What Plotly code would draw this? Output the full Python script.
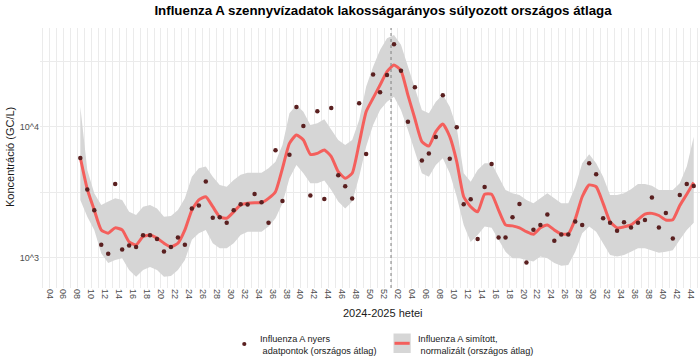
import datetime as dt
import plotly.graph_objects as go

# ISO weeks covered by the measurements
weeks_2024 = list(range(8, 53))
weeks_2025 = list(range(1, 45))

# raw national averages (GC/L)
raw_2024 = [5780, 3310, 2300, 1256, 1071, 3660, 1157, 1241, 1205, 1487, 1487, 1387, 1117,
            1205, 1429, 1256, 2371, 2500, 3820, 2023, 2040, 1850, 2300, 2560, 2550, 3070,
            2650, 1850, 6620, 2710, 6100, 14160, 10100, 2980, 13130, 2805, 13900, 4265,
            3515, 2825, 15100, 6180, 25000, 18350, 24800]
raw_2025 = [42500, 26700, 10920, 20000, 5530, 6250, 8340, 17400, 5690, 9890, 2560, 2790,
            1387, 3470, 5180, 1429, 1429, 2040, 2570, 918, 1637, 1776, 2134, 1349, 1506,
            1506, 1892, 1776, 5270, 4340, 2000, 1850, 1607, 1862, 1702, 1850, 1937, 2880,
            1702, 2190, 1403, 3010, 3660, 3530]

# smoothed, normalised curve
smooth_2024 = [5790, 3330, 2310, 1630, 1540, 1690, 1630, 1320, 1250, 1450, 1490, 1410, 1290,
               1210, 1290, 1630, 2310, 2760, 2920, 2450, 2050, 2000, 2240, 2530, 2600, 2630,
               2640, 2840, 3190, 4810, 7460, 8640, 7910, 6150, 6250, 6650, 5920, 4530,
               4040, 4410, 7460, 13000, 16500, 20800, 26300]
smooth_2025 = [29600, 26800, 17400, 11500, 7700, 7120, 9160, 10500, 8390, 5410, 2920, 2450,
               2240, 3050, 3050, 2310, 1780, 1750, 1690, 1580, 1510, 1690, 1780, 1630, 1520,
               1520, 1970, 2920, 3590, 3480, 2600, 1880, 1690, 1720, 1780, 1950, 2150, 2180,
               2100, 1940, 1950, 2500, 3050, 3750]

# confidence band
upper_2024 = [14200, 4670, 3100, 2530, 2680, 2840, 2760, 2240, 2120, 2450, 2530, 2380, 2050,
              2080, 2310, 2840, 4150, 4810, 4960, 4150, 3590, 3480, 3920, 4290, 4460, 4460,
              4460, 4810, 5410, 7240, 12650, 14650, 13000, 10300, 10600, 11400, 9440, 7910,
              7240, 7910, 11250, 20200, 28700, 38500, 47300]
upper_2025 = [50100, 42100, 28700, 19600, 13400, 12650, 15500, 17500, 14200, 9800, 4410, 3800,
              4670, 5260, 5260, 4150, 3290, 3100, 3010, 2760, 2600, 2840, 3100, 2840, 2600,
              2600, 3480, 5260, 6150, 5260, 4150, 3010, 3010, 3100, 3330, 3650, 3650, 3540,
              3280, 3280, 3280, 3700, 4960, 8390]
lower_2024 = [2760, 2050, 1630, 1080, 910, 960, 990, 805, 716, 805, 850, 805, 716,
              725, 805, 960, 1370, 1540, 1630, 1290, 1180, 1180, 1290, 1490, 1580, 1580,
              1580, 1730, 2000, 2600, 4040, 5110, 4410, 3700, 3700, 3890, 3290, 2680,
              2380, 2680, 4150, 7040, 10300, 13400, 15500]
lower_2025 = [16900, 13400, 9440, 6440, 4410, 4150, 5110, 5740, 4410, 2920, 1780, 1320,
              1490, 1730, 1690, 1370, 1110, 990, 990, 960, 935, 1020, 990, 910, 870,
              880, 1110, 1540, 1730, 1580, 1290, 1050, 1020, 1050, 1110, 1180, 1180, 1140,
              1090, 1110, 1140, 1370, 1630, 1850]

y_tickvals = [1000, 3162.2777, 10000, 31622.777]
y_ticktext = ["10^3", "", "10^4", ""]

POINT_COLOR = "#5a2020"
LINE_COLOR = "#f45f5c"
BAND_COLOR = "#d6d6d6"
GRID_COLOR = "#ebebeb"
FONT = "Liberation Sans, Arial, sans-serif"

# sample dates: mid-week (Thursday) of each ISO week
x = ([dt.date.fromisocalendar(2024, w, 4) for w in weeks_2024] +
     [dt.date.fromisocalendar(2025, w, 4) for w in weeks_2025])
raw = raw_2024 + raw_2025
smooth = smooth_2024 + smooth_2025
upper = upper_2024 + upper_2025
lower = lower_2024 + lower_2025

# weekly grid, labels on even weeks
tick_weeks = [(2024, w) for w in range(3, 53)] + [(2025, w) for w in range(1, 46)]
tickvals = [dt.date.fromisocalendar(y, w, 1) for y, w in tick_weeks]
ticktext = [f"{w:02d}" if w % 2 == 0 else "" for y, w in tick_weeks]
season_start = dt.date.fromisocalendar(2025, 1, 1)

# plot panel in pixels (for legend / label placement)
PX_L, PX_R, PX_T, PX_B = 40, 700, 28, 288


def px_x(p):
    return (p - PX_L) / (PX_R - PX_L)


def px_y(p):
    return (PX_B - p) / (PX_B - PX_T)


fig = go.Figure()

fig.add_trace(go.Scatter(x=x, y=lower, mode="lines", line=dict(width=0),
                         hoverinfo="skip", showlegend=False))
fig.add_trace(go.Scatter(x=x, y=upper, mode="lines", line=dict(width=0),
                         fill="tonexty", fillcolor=BAND_COLOR,
                         hoverinfo="skip", showlegend=False))
fig.add_trace(go.Scatter(x=x, y=smooth, mode="lines",
                         line=dict(color=LINE_COLOR, width=3, shape="spline", smoothing=0.5),
                         showlegend=False))
fig.add_trace(go.Scatter(x=x, y=raw, mode="markers",
                         marker=dict(color=POINT_COLOR, size=4.5),
                         showlegend=False))

fig.add_shape(type="line", x0=season_start, x1=season_start, yref="paper", y0=0, y1=1,
              line=dict(color="#808080", width=1, dash="dot"))

# legend drawn by hand (ggplot style)
fig.add_shape(type="circle", xref="paper", yref="paper",
              x0=px_x(242.2), x1=px_x(246.4), y0=px_y(346.1), y1=px_y(341.9),
              fillcolor=POINT_COLOR, line=dict(width=0))
fig.add_shape(type="rect", xref="paper", yref="paper",
              x0=px_x(393.5), x1=px_x(410.7), y0=px_y(353), y1=px_y(333.5),
              fillcolor=BAND_COLOR, line=dict(width=0))
fig.add_shape(type="line", xref="paper", yref="paper",
              x0=px_x(394.5), x1=px_x(409.7), y0=px_y(343.3), y1=px_y(343.3),
              line=dict(color=LINE_COLOR, width=3))
fig.add_annotation(xref="paper", yref="paper", x=px_x(258), y=px_y(344.5),
                   xanchor="left", yanchor="middle", showarrow=False, align="left",
                   text="Influenza A nyers<br>\u00a0adatpontok (országos átlag)",
                   font=dict(family=FONT, size=9.2, color="#1a1a1a"))
fig.add_annotation(xref="paper", yref="paper", x=px_x(415.5), y=px_y(344.5),
                   xanchor="left", yanchor="middle", showarrow=False, align="left",
                   text="Influenza A simított,<br>\u00a0normalizált (országos átlag)",
                   font=dict(family=FONT, size=9.2, color="#1a1a1a"))

# axis titles as annotations (x title centred on the full, cropped panel)
fig.add_annotation(xref="paper", yref="paper", x=px_x(383), y=px_y(313),
                   xanchor="center", yanchor="middle", showarrow=False,
                   text="2024-2025 hetei", font=dict(family=FONT, size=11, color="#1a1a1a"))
fig.add_annotation(xref="paper", yref="paper", x=px_x(10), y=px_y(157),
                   xanchor="center", yanchor="middle", showarrow=False, textangle=-90,
                   text="Koncentráció (GC/L)", font=dict(family=FONT, size=11, color="#1a1a1a"))

fig.update_layout(
    width=700, height=363,
    margin=dict(l=PX_L, r=700 - PX_R, t=PX_T, b=363 - PX_B),
    paper_bgcolor="white", plot_bgcolor="white",
    font=dict(family=FONT),
    title=dict(text="<b>Influenza A szennyvízadatok lakosságarányos súlyozott országos átlaga</b>",
               x=383 / 700, xref="container", xanchor="center",
               y=1 - 10 / 363, yref="container", yanchor="middle",
               font=dict(family=FONT, size=13.3, color="black")),
    showlegend=False,
)

fig.update_xaxes(
    type="date", automargin=False,
    range=["2024-01-12 12:00", "2025-11-05 07:00"],
    tickmode="array", tickvals=tickvals, ticktext=ticktext,
    tickangle=90, tickfont=dict(family=FONT, size=9, color="#4d4d4d"),
    showgrid=True, gridcolor=GRID_COLOR, gridwidth=1,
    zeroline=False, showline=False, ticks="",
)
fig.update_yaxes(
    type="log", automargin=False, range=[2.769, 4.753],
    tickmode="array", tickvals=y_tickvals, ticktext=y_ticktext,
    tickfont=dict(family=FONT, size=9, color="#4d4d4d"),
    showgrid=True, gridcolor=GRID_COLOR, gridwidth=1,
    zeroline=False, showline=False, ticks="",
)

# the page's default body margin would shift the 700x363 figure
fig.write_html("out.html", config={"displayModeBar": False},
               post_script="document.body.style.margin = '0px';")
